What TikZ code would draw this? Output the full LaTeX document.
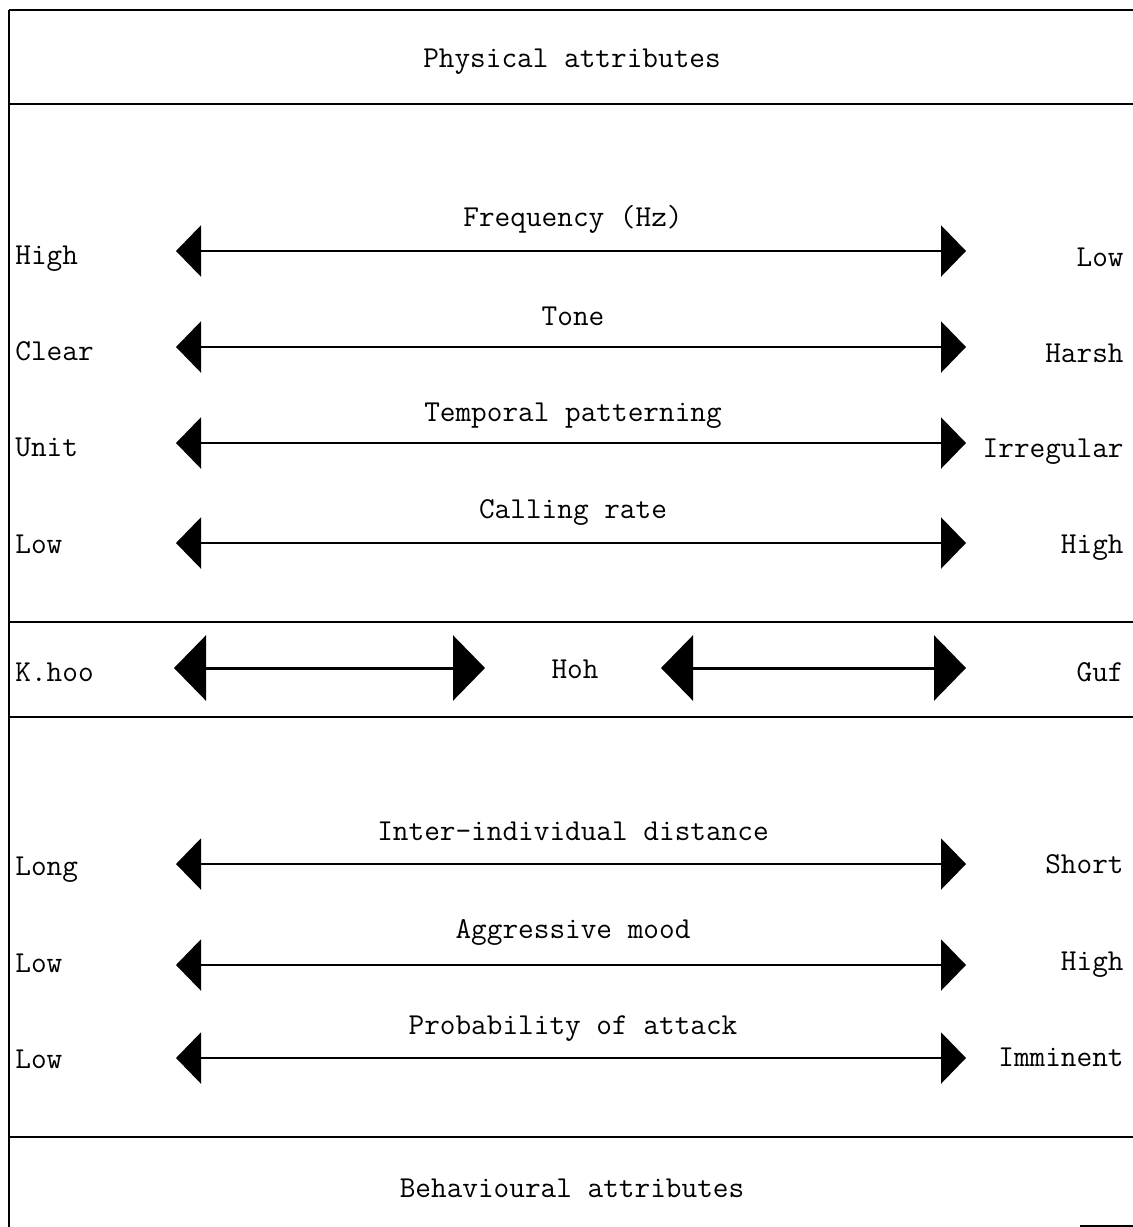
\documentclass[tikz,border=0pt]{standalone}
\usetikzlibrary{arrows.meta}
\begin{document}
\begin{tikzpicture}[x=0.5pt,y=-0.5pt,
  txt/.style={font=\fontsize{15.2}{18}\selectfont\ttfamily, inner sep=0pt, anchor=base},
  lbl/.style={txt, anchor=base west},
  rbl/.style={txt, anchor=base east},
  rule/.style={line width=1pt},
  scalearrow/.style={line width=1.3pt, {Triangle[length=12.5pt,width=25.5pt]}-{Triangle[length=12.5pt,width=25.5pt]}},
  bigarrow/.style={line width=1.5pt, {Triangle[length=16pt,width=32.5pt]}-{Triangle[length=16pt,width=32.5pt]}}]
\useasboundingbox (0,0) rectangle (1133,1227);
% frame
\coordinate (tl) at (9,10);
\coordinate (bl) at (9,1227);
\draw[rule] (tl) -- (bl);
\foreach \y/\n in {10/r1,104/r2,622/r3,717/r4,1137/r5}{
  \coordinate (\n a) at (9,\y);
  \coordinate (\n b) at (1133,\y);
  \draw[rule] (\n a) -- (\n b);
}
\coordinate (bra) at (1080,1226);
\coordinate (brb) at (1133,1226);
\draw[rule] (bra) -- (brb);
% headings
\node[txt] (phys) at (572,67) {Physical attributes};
\node[txt] (behav) at (572,1197) {Behavioural attributes};
% scales
\foreach \i/\ty/\ly/\lb/\rb/\t/\l/\r in {
  1/226/251/264/266/{Frequency (Hz)}/High/Low,
  2/325/347/360/362/Tone/Clear/Harsh,
  3/421/443/456/457/Temporal patterning/Unit/Irregular,
  4/518/543/553/553/Calling rate/Low/High,
  5/840/864/875/873/Inter-individual distance/Long/Short,
  6/938/965/972/970/Aggressive mood/Low/High,
  7/1034/1058/1068/1066/Probability of attack/Low/Imminent}{
  \node[txt] (t\i) at (573,\ty) {\t};
  \node[lbl] (l\i) at (15,\lb) {\l};
  \node[rbl] (r\i) at (1124,\rb) {\r};
  \coordinate (a\i) at (176,\ly);
  \coordinate (b\i) at (966,\ly);
  \draw[scalearrow] (a\i) -- (b\i);
}
% call types
\node[lbl] (khoo) at (15,681) {K.hoo};
\node[txt] (hoh) at (575,678) {Hoh};
\node[rbl] (guf) at (1124,681) {Guf};
\coordinate (c1) at (174,668);
\coordinate (c2) at (485,668);
\coordinate (c3) at (661,668);
\coordinate (c4) at (966,668);
\draw[bigarrow] (c1) -- (c2);
\draw[bigarrow] (c3) -- (c4);
\end{tikzpicture}
\end{document}
